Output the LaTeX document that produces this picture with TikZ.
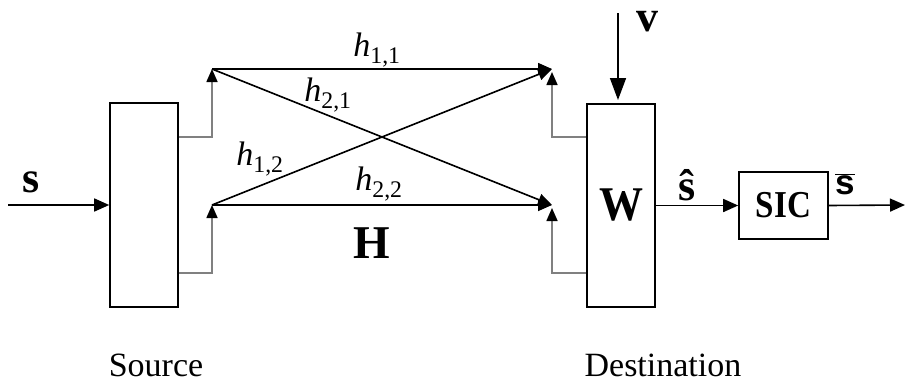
\documentclass[tikz,border=0pt]{standalone}
\usepackage{fontspec}
\setmainfont{Liberation Serif}
\setsansfont{Liberation Sans}
\usetikzlibrary{arrows.meta,positioning,calc}

\tikzset{
  blk/.style={draw,line width=1.6pt,inner sep=0pt},
  sig/.style={line width=1.6pt,-{Triangle[length=15pt,width=13pt]}},
  stub/.style={draw=gray,line width=1.6pt,-{Triangle[length=13pt,width=11pt,color=black]}},
  chan/.style={line width=1.6pt,-{Triangle[length=14pt,width=12pt]}},
  lab/.style={font=\fontsize{34}{40}\selectfont,inner sep=0pt},
  bflab/.style={font=\fontsize{44}{50}\selectfont\bfseries,inner sep=0pt}
}

\begin{document}
\begin{tikzpicture}[x=1pt,y=-1pt]
  \useasboundingbox (0,0) rectangle (906,383);

  % blocks
  \node[blk,minimum width=68pt,minimum height=204pt] (src) at (144,205) {};
  \node[blk,minimum width=68pt,minimum height=203pt] (wbox) at (621,205.5) {};
  \node[blk,minimum width=89pt,minimum height=67pt] (sic) at (783.5,205.5) {};
  \node[bflab] at (wbox.center) {\scalebox{1}[1.1]{W}};
  \node[font=\fontsize{38}{44}\selectfont\bfseries,inner sep=0pt] at (sic.center) {\scalebox{0.87}[1]{SIC}};

  % antenna points
  \coordinate (tx1) at (212,69);
  \coordinate (tx2) at (212,205);
  \coordinate (rx1) at (552,69);
  \coordinate (rx2) at (552,205);
  \coordinate (in) at (8,205);
  \coordinate (out) at (905,205);
  \coordinate (vin) at (618,13);

  % input and output
  \draw[sig] (in) -- (src.west);
  \node[bflab] at (31,182) {s};
  \draw[sig] (wbox.east) -- (sic.west);
  \node[bflab] at (687,185) {ŝ};
  \draw[sig] (sic.east) -- (out);
  \node[font=\fontsize{35}{40}\selectfont\sffamily\bfseries,inner sep=0pt] at (845,184) {$\overline{\mbox{s}}$};
  \draw[line width=1.6pt,-{Triangle[length=22pt,width=16pt]}] (vin) -- (vin |- 0,100);
  \node[bflab] at (647,22) {v};

  % stubs to the antennas
  \draw[stub] (src.east |- 0,137) -| (tx1);
  \draw[stub] (src.east |- 0,273) -| (tx2);
  \draw[stub] (wbox.west |- 0,137) -| ($(rx1)+(0,3)$);
  \draw[stub] (wbox.west |- 0,273) -| ($(rx2)+(0,3)$);

  % channel
  \draw[chan] (tx1) -- (rx1);
  \draw[chan] (tx1) -- (rx2);
  \draw[chan] (tx2) -- (rx1);
  \draw[chan] (tx2) -- (rx2);
  \node[lab] (h11) at (377,50) {\textit{h}\textsubscript{1,1}};
  \node[lab] (h21) at (328,95) {\textit{h}\textsubscript{2,1}};
  \node[lab] (h12) at (260,159) {\textit{h}\textsubscript{1,2}};
  \node[lab] (h22) at (379,184) {\textit{h}\textsubscript{2,2}};
  \node[font=\fontsize{47}{52}\selectfont\bfseries,inner sep=0pt] (hmat) at (372,243) {H};

  % captions
  \node[lab,anchor=base] at (156,376) {Source};
  \node[lab,anchor=base] at (663,376) {Destination};
\end{tikzpicture}
\end{document}
